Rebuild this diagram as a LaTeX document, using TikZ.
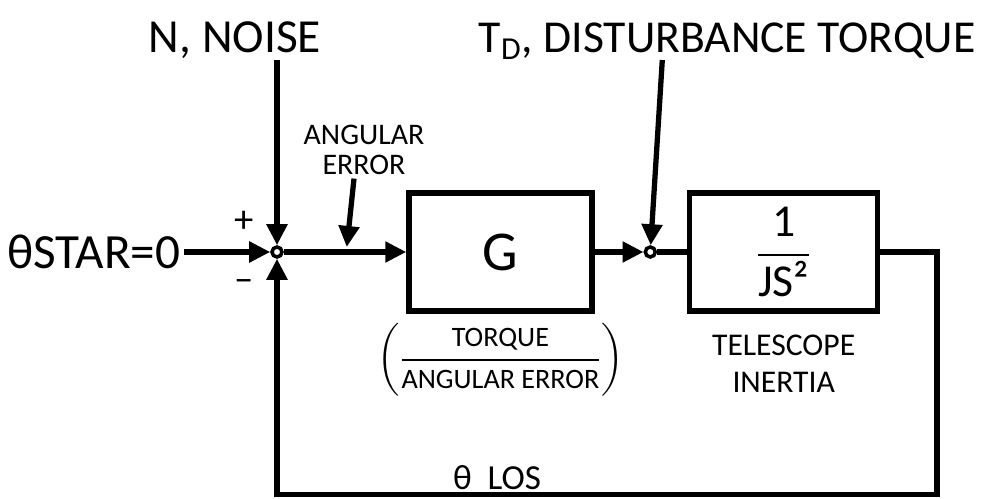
\documentclass[tikz,border=0pt]{standalone}
\usepackage{amsmath}
\usepackage{fontspec}
\setmainfont{Carlito}
\usepackage{tikz}
\usetikzlibrary{positioning, calc, arrows.meta}

\begin{document}
\begin{tikzpicture}[
        node distance=1cm and 1cm,
        box/.style={rectangle, draw=black, line width=3pt, minimum width=3.66cm, minimum height=2.36cm, inner sep=0pt, align=center},
        sumnode/.style={circle, draw=black, line width=2pt, fill=white, minimum size=0.2cm, inner sep=0pt},
        arrow/.style={-{Triangle[length=0.42cm, width=0.4cm]}, line width=3pt},
        line/.style={line width=3pt},
        lbl/.style={inner sep=2pt, align=center}
    ]
        \useasboundingbox (0,0) rectangle (19.84,9.96);

        % --- FORWARD PATH ---
        \node[sumnode] (sum1) at (5.54,4.92) {};
        \node[box, right=2.45cm of sum1, font=\fontsize{32}{34}\selectfont] (gain) {G};
        \node[sumnode, right=0.98cm of gain] (sum2) {};
        \node[box, minimum width=3.76cm, right=0.6cm of sum2, font=\fontsize{26}{30}\selectfont] (plant) {$\displaystyle\frac{\mbox{1}}{\mbox{JS²}}$};

        % --- INPUTS ---
        \node[lbl, left=1.72cm of sum1, font=\fontsize{28}{30}\selectfont] (input) {θSTAR=0};
        \node[lbl, anchor=base west, font=\fontsize{27}{30}\selectfont] (noise) at (2.9,8.9) {N, NOISE};
        \node[lbl, anchor=base west, font=\fontsize{26}{30}\selectfont] (dist) at (9.5,8.9) {T\textsubscript{D}, DISTURBANCE TORQUE};
        \coordinate[above=3.7cm of sum1] (ntail);
        \coordinate (dtail) at ($(sum2)+(0.24,3.84)$);

        % --- SIGNS AND LABELS ---
        \node[lbl, font=\fontsize{22}{24}\selectfont] (plus) at ($(sum1)+(-0.66,0.6)$) {+};
        \node[lbl, font=\fontsize{22}{24}\selectfont] (minus) at ($(sum1)+(-0.66,-0.68)$) {–};
        \node[lbl, font=\fontsize{17}{17}\selectfont] (angerr) at (7.28,6.96) {ANGULAR\\ERROR};
        \coordinate (aetip) at ($(sum1)!0.54!(gain.west)+(0,0.1)$);
        \node[lbl, below=0.12cm of gain, font=\fontsize{16}{18}\selectfont] (gainlbl) {$\displaystyle\left(\frac{\mbox{TORQUE}}{\mbox{ANGULAR ERROR}}\right)$};
        \node[lbl, below=0.35cm of plant, font=\fontsize{18}{21}\selectfont] (plantlbl) {TELESCOPE\\INERTIA};

        % --- FEEDBACK ---
        \coordinate (fb) at (18.74,0.07);
        \node[lbl, font=\fontsize{20}{22}\selectfont] (los) at (9.94,0.4) {θ\hspace{0.45em}LOS};

        % --- CONNECTIONS ---
        \draw[arrow] (input) -- (sum1);
        \draw[arrow] (ntail) -- (sum1);
        \draw[arrow] (sum1) -- (gain);
        \draw[arrow] ([xshift=-0.2cm]angerr.south) -- (aetip);
        \draw[arrow] (gain) -- (sum2);
        \draw[arrow] (dtail) -- (sum2);
        \draw[line] (sum2) -- (plant);
        \draw[arrow] (plant) -| (fb) -| (sum1);

    \end{tikzpicture}
\end{document}
